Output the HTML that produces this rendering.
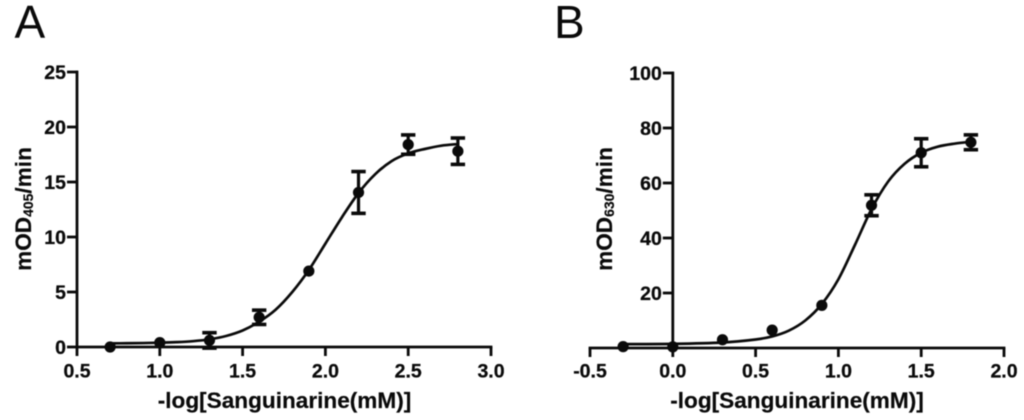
<!DOCTYPE html>
<html lang="en">
<head>
<meta charset="utf-8">
<title>Sanguinarine dose response</title>
<style>
html,body{margin:0;padding:0;background:#fff;width:1024px;height:420px;overflow:hidden}
svg{display:block;filter:blur(0.4px)}
text{font-family:"Liberation Sans",Arial,sans-serif;fill:#0a0a0a}
.tick{font-weight:700;font-size:19.5px;stroke:#0a0a0a;stroke-width:0.25px}
.title{font-weight:700;font-size:22.6px;stroke:#0a0a0a;stroke-width:0.2px}
.panel{font-size:46px}
</style>
</head>
<body>
<svg id="figure" width="1024" height="420" viewBox="0 0 1024 420" xmlns="http://www.w3.org/2000/svg"></svg>
<script>
// Panel A values
const aDoses = [0.7, 1.0, 1.3, 1.6, 1.9, 2.2, 2.5, 2.8];
const aValues = [0.0, 0.4, 0.6, 2.7, 6.9, 14.05, 18.4, 17.8];
const aErrors = [0, 0, 0.7, 0.65, 0, 1.9, 0.88, 1.2];
const aCurveDoses = [0.7, 0.8, 0.9, 1.0, 1.1, 1.2, 1.3, 1.4, 1.5, 1.6, 1.7, 1.8, 1.9, 2.0, 2.1, 2.2, 2.3, 2.4, 2.5, 2.6, 2.7, 2.8];
const aCurveValues = [0.33, 0.34, 0.36, 0.39, 0.44, 0.53, 0.7, 1.0, 1.5, 2.3, 3.4, 5.0, 7.0, 9.4, 11.8, 14.0, 15.7, 16.9, 17.6, 18.0, 18.3, 18.45];
const aXTicks = ["0.5", "1.0", "1.5", "2.0", "2.5", "3.0"];
const aYTicks = ["0", "5", "10", "15", "20", "25"];

// Panel B values
const bDoses = [-0.3, 0.0, 0.3, 0.6, 0.9, 1.2, 1.5, 1.8];
const bValues = [0.5, 0.4, 3.0, 6.5, 15.5, 51.9, 71.0, 74.8];
const bErrors = [0, 0, 0, 0, 0, 3.8, 5.1, 2.7];
const bCurveDoses = [-0.3, 0.0, 0.3, 0.5, 0.6, 0.7, 0.8, 0.9, 1.0, 1.1, 1.2, 1.3, 1.4, 1.5, 1.6, 1.7, 1.8];
const bCurveValues = [1.4, 1.5, 2.0, 3.1, 4.2, 6.3, 10.0, 16.0, 25.0, 37.5, 50.5, 60.5, 67.0, 71.0, 73.2, 74.3, 75.0];
const bXTicks = ["-0.5", "0.0", "0.5", "1.0", "1.5", "2.0"];
const bYTicks = ["20", "40", "60", "80", "100"];

const NS = 'http://www.w3.org/2000/svg';
const svg = document.getElementById('figure');

function make(tag, parent, attrs) {
  const el = document.createElementNS(NS, tag);
  for (const k in attrs) el.setAttribute(k, attrs[k]);
  parent.appendChild(el);
  return el;
}

function line(parent, x1, y1, x2, y2, w) {
  return make('line', parent, {x1: x1, y1: y1, x2: x2, y2: y2, stroke: '#0a0a0a', 'stroke-width': w});
}

function smoothPath(pts) {
  let d = 'M' + pts[0][0].toFixed(2) + ' ' + pts[0][1].toFixed(2);
  for (let i = 0; i < pts.length - 1; i++) {
    const p0 = pts[Math.max(i - 1, 0)], p1 = pts[i], p2 = pts[i + 1], p3 = pts[Math.min(i + 2, pts.length - 1)];
    const c1x = p1[0] + (p2[0] - p0[0]) / 6, c1y = p1[1] + (p2[1] - p0[1]) / 6;
    const c2x = p2[0] - (p3[0] - p1[0]) / 6, c2y = p2[1] - (p3[1] - p1[1]) / 6;
    d += 'C' + c1x.toFixed(2) + ' ' + c1y.toFixed(2) + ' ' + c2x.toFixed(2) + ' ' + c2y.toFixed(2) + ' ' + p2[0].toFixed(2) + ' ' + p2[1].toFixed(2);
  }
  return d;
}

function drawPanel(o) {
  const g = make('g', svg, {});
  
  
  const X = function (v) { return o.x0 + (v - o.xMin) * (o.x1 - o.x0) / (o.xMax - o.xMin); };
  const Y = function (v) { return o.y0 + (v - o.yMin) * (o.y1 - o.y0) / (o.yMax - o.yMin); };

  const letter = make('text', g, {x: o.letterX, y: 38, class: 'panel'});
  letter.textContent = o.letter;
  
  

  // x axis
  const xAxis = make('g', g, {});
  
  
  line(xAxis, o.x0 - 1.4, Y(o.yMin), o.x1 + 1.4, Y(o.yMin), 2.8);
  o.xTicks.forEach(function (t) {
    const v = parseFloat(t);
    line(xAxis, X(v), Y(o.yMin), X(v), Y(o.yMin) + 9, 2.8);
    const label = make('text', xAxis, {x: X(v), y: 377.5, class: 'tick', 'text-anchor': 'middle'});
    label.textContent = t;
    
    
  });

  // y axis
  const yAxis = make('g', g, {});
  
  
  const ax = X(o.yCross);
  line(yAxis, ax, Y(o.yMin), ax, Y(o.yMax) - 1.4, 2.8);
  o.yTicks.forEach(function (t) {
    const v = parseFloat(t);
    line(yAxis, ax - 10, Y(v), ax + 1, Y(v), 2.8);
    const label = make('text', yAxis, {x: ax - 11, y: Y(v) + 7, class: 'tick', 'text-anchor': 'end'});
    label.textContent = t;
    
    
  });

  // fitted curve
  const pts = o.curveDoses.map(function (d, i) { return [X(d), Y(o.curveValues[i])]; });
  const curve = make('path', g, {d: smoothPath(pts), fill: 'none', stroke: '#0a0a0a', 'stroke-width': 2.7});
  
  

  // points and error bars
  o.doses.forEach(function (d, i) {
    const m = make('g', g, {});
    
    
    const e = o.errors[i];
    if (e > 0) {
      line(m, X(d), Y(o.values[i] + e), X(d), Y(o.values[i] - e), 3.2);
      line(m, X(d) - 7.2, Y(o.values[i] + e), X(d) + 7.2, Y(o.values[i] + e), 3.6);
      line(m, X(d) - 7.2, Y(o.values[i] - e), X(d) + 7.2, Y(o.values[i] - e), 3.6);
    }
    make('circle', m, {cx: X(d), cy: Y(o.values[i]), r: 5.6, fill: '#0a0a0a'});
  });

  // axis titles
  const xTitle = make('text', g, {x: o.xTitleX, y: 408, class: 'title', 'text-anchor': 'middle'});
  xTitle.textContent = '-log[Sanguinarine(mM)]';
  
  

  const yTitle = make('text', g, {transform: 'translate(' + o.yTitleX + ' 209) rotate(-90)', class: 'title', 'text-anchor': 'middle'});
  
  
  const t1 = make('tspan', yTitle, {});
  t1.textContent = 'mOD';
  const t2 = make('tspan', yTitle, {'font-size': '14px', dy: '2'});
  t2.textContent = o.sub;
  const t3 = make('tspan', yTitle, {dy: '-2'});
  t3.textContent = '/min';
}

drawPanel({
  name: 'panel-a', letter: 'A', letterX: 14.5, sub: '405',
  x0: 77, x1: 491, xMin: 0.5, xMax: 3.0, yCross: 0.5,
  y0: 347, y1: 72, yMin: 0, yMax: 25,
  xTicks: aXTicks, yTicks: aYTicks,
  doses: aDoses, values: aValues, errors: aErrors,
  curveDoses: aCurveDoses, curveValues: aCurveValues,
  xTitleX: 284.5, yTitleX: 31
});

drawPanel({
  name: 'panel-b', letter: 'B', letterX: 554, sub: '630',
  x0: 590, x1: 1004, xMin: -0.5, xMax: 2.0, yCross: 0,
  y0: 348, y1: 73, yMin: 0, yMax: 100,
  xTicks: bXTicks, yTicks: bYTicks,
  doses: bDoses, values: bValues, errors: bErrors,
  curveDoses: bCurveDoses, curveValues: bCurveValues,
  xTitleX: 797, yTitleX: 612
});
</script>
</body>
</html>
